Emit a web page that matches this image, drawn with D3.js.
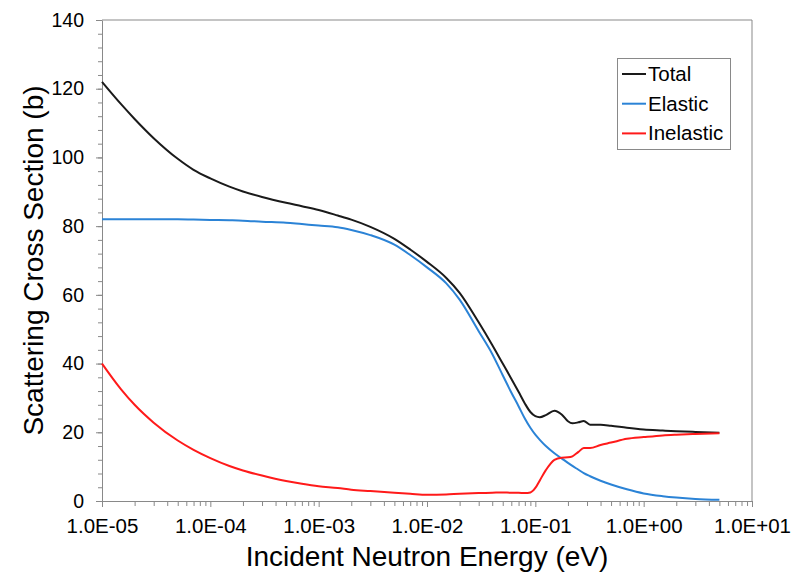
<!DOCTYPE html>
<html>
<head>
<meta charset="utf-8">
<script src="https://cdn.jsdelivr.net/npm/d3@7"></script>
<style>
  html, body { margin: 0; padding: 0; background: #fff; }
  svg text { font-family: "Liberation Sans", Arial, sans-serif; fill: #000; }
</style>
</head>
<body>
<div id="viz"></div>
<script>
// Neutron energies (eV) shared by all series
const energies = [
  1e-5, 1.5e-5, 2e-5, 3e-5, 5e-5, 7e-5,
  1e-4, 1.5e-4, 2e-4, 3e-4, 5e-4, 7e-4,
  1e-3, 1.5e-3, 2e-3, 3e-3, 5e-3, 7e-3,
  1e-2, 1.5e-2, 2e-2, 3e-2, 4e-2, 5e-2, 6e-2, 7e-2, 8e-2, 9e-2,
  0.1, 0.11, 0.125, 0.15, 0.175, 0.2, 0.22, 0.25, 0.28, 0.32, 0.4, 0.5, 0.7,
  1, 1.5, 2, 3, 5
];

const total = [
  122, 115.5, 111.2, 105.6, 99.6, 96.4,
  93.9, 91.5, 90.1, 88.5, 86.8, 85.8,
  84.7, 83.1, 81.9, 79.8, 76.3, 73.2,
  69.6, 65.0, 60.6, 52.0, 45.4, 40.0, 35.6, 31.8, 28.4, 25.9,
  24.7, 24.4, 25.0, 26.3, 25.2, 23.2, 22.6, 22.9, 23.3, 22.2, 22.2, 21.9, 21.3,
  20.8, 20.5, 20.3, 20.1, 19.9
];

const elastic = [
  82, 82, 82, 82, 82, 81.9,
  81.8, 81.7, 81.6, 81.3, 81, 80.6,
  80.2, 79.7, 78.9, 77.4, 74.6, 71.6,
  68.0, 63.4, 58.6, 49.4, 42.8, 36.6, 31.6, 27.6, 24.0, 21.3,
  19.3, 17.8, 16.0, 13.9, 12.4, 11.1, 10.2, 9.1, 8.1, 7.2, 5.9, 4.8, 3.4,
  2.2, 1.4, 1.0, 0.6, 0.35
];

const inelastic = [
  40, 32.5, 28.0, 22.8, 17.6, 14.9,
  12.5, 10.2, 8.9, 7.4, 5.8, 5.0,
  4.3, 3.8, 3.3, 2.9, 2.4, 2.1,
  1.8, 1.9, 2.1, 2.3, 2.4, 2.5, 2.4, 2.4, 2.3, 2.5,
  3.8, 6.0, 9.0, 12.0, 12.6, 12.7, 13.0, 14.3, 15.4, 15.4, 16.3, 17.0, 18.1,
  18.6, 19.1, 19.3, 19.5, 19.7
];

const seriesNames = ['Total', 'Elastic', 'Inelastic'];
const seriesColors = ['#1a1a1a', '#2b83d6', '#ff1a1a'];
const xTickValues = [1e-5, 1e-4, 1e-3, 1e-2, 1e-1, 1e0, 1e1];
const xTickLabels = ['1.0E-05', '1.0E-04', '1.0E-03', '1.0E-02', '1.0E-01', '1.0E+00', '1.0E+01'];
const yTickValues = [0, 20, 40, 60, 80, 100, 120, 140];

(function () {
  const W = 793, H = 575;
  const margin = { top: 20, right: 41, bottom: 74, left: 102 };
  const width = W - margin.left - margin.right;
  const height = H - margin.top - margin.bottom;
  const axisColor = '#898989';

  const svg = d3
    .select('#viz')
    .append('svg')
    .attr('width', W)
    .attr('height', H);

  const g = svg.append('g').attr('transform', `translate(${margin.left},${margin.top})`);

  const x = d3.scaleLog().domain([1e-5, 1e1]).range([0, width]);
  const y = d3.scaleLinear().domain([0, 140]).range([height, 0]);

  // Frame (top and right)
  g.append('path')
    .attr('d', `M0,0H${width}V${height}`)
    .attr('fill', 'none')
    .attr('stroke', axisColor)
    .attr('stroke-width', 1);

  // Minor x ticks (2..9 per decade)
  const minorX = [];
  for (let d = -5; d < 1; d++) {
    for (let m = 2; m <= 9; m++) minorX.push(m * Math.pow(10, d));
  }
  const xMinor = g.append('g')
    .attr('transform', `translate(0,${height})`)
    .call(d3.axisBottom(x).tickValues(minorX).tickSize(5).tickFormat(''));
  xMinor.select('.domain').remove();
  xMinor.selectAll('line').attr('stroke', axisColor);

  const xAxis = g.append('g')
    .attr('transform', `translate(0,${height})`)
    .call(d3.axisBottom(x).tickValues(xTickValues).tickSize(6).tickSizeOuter(0)
      .tickFormat((d, i) => xTickLabels[i]));
  xAxis.select('.domain').attr('stroke', axisColor);
  xAxis.selectAll('line').attr('stroke', axisColor);
  xAxis.selectAll('text')
    .attr('font-size', '20.5px')
    .attr('dy', null)
    .attr('y', 32);

  // Minor y ticks (every 4)
  const yMinor = g.append('g')
    .call(d3.axisLeft(y).tickValues(d3.range(0, 141, 4)).tickSize(4).tickFormat(''));
  yMinor.select('.domain').remove();
  yMinor.selectAll('line').attr('stroke', axisColor);

  const yAxis = g.append('g')
    .call(d3.axisLeft(y).tickValues(yTickValues).tickSize(6).tickSizeOuter(0));
  yAxis.select('.domain').attr('stroke', axisColor);
  yAxis.selectAll('line').attr('stroke', axisColor);
  yAxis.selectAll('text')
    .attr('font-size', '19.5px')
    .attr('x', -18);

  // Axis titles
  g.append('text')
    .attr('x', width / 2)
    .attr('y', height + 65)
    .attr('text-anchor', 'middle')
    .attr('font-size', '28px')
    .text('Incident Neutron Energy (eV)');

  g.append('text')
    .attr('transform', `translate(${43 - margin.left},${height / 2}) rotate(-90)`)
    .attr('text-anchor', 'middle')
    .attr('font-size', '28px')
    .text('Scattering Cross Section (b)');

  // Lines
  const seriesData = [total, elastic, inelastic];
  const line = d3.line()
    .x((d, i) => x(energies[i]))
    .y((d) => y(d))
    .curve(d3.curveMonotoneX);

  g.selectAll('.series')
    .data(seriesData)
    .enter()
    .append('path')
    .attr('class', 'series')
    .attr('fill', 'none')
    .attr('stroke', (d, i) => seriesColors[i])
    .attr('stroke-width', 2)
    .attr('stroke-linejoin', 'round')
    .attr('d', line);

  // Legend
  const legend = svg.append('g').attr('transform', 'translate(617,58)');
  legend.append('rect')
    .attr('x', 0.5)
    .attr('y', 0.5)
    .attr('width', 113)
    .attr('height', 91)
    .attr('fill', '#fff')
    .attr('stroke', axisColor);

  const items = legend.selectAll('.item')
    .data(seriesNames)
    .enter()
    .append('g')
    .attr('class', 'item')
    .attr('transform', (d, i) => `translate(0,${16 + i * 29.7})`);

  items.append('line')
    .attr('x1', 5)
    .attr('x2', 29)
    .attr('y1', 0)
    .attr('y2', 0)
    .attr('stroke', (d, i) => seriesColors[i])
    .attr('stroke-width', 2);

  items.append('text')
    .attr('x', 31)
    .attr('y', 7)
    .attr('font-size', '20.5px')
    .text((d) => d);
})();
</script>
</body>
</html>
